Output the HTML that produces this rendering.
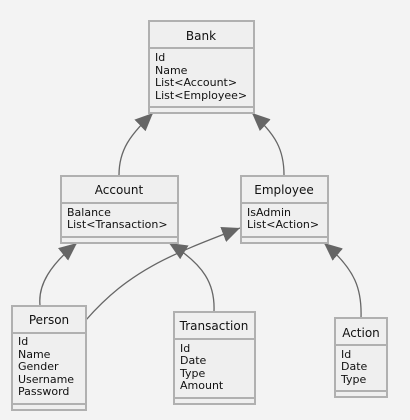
<!DOCTYPE html>
<html><head><meta charset="utf-8"><style>
html,body{margin:0;padding:0;background:#f3f3f3;}
svg{display:block;}
text{font-family:"DejaVu Sans","Liberation Sans",sans-serif;font-size:11px;fill:#111;}
.t{font-weight:normal;font-size:12px;text-anchor:middle;}
.b{fill:#efefef;stroke:#b0b0b0;stroke-width:2;}
.l{stroke:#b0b0b0;stroke-width:2;}
.c{fill:none;stroke:#666;stroke-width:1.3;}
</style></head><body>
<svg width="410" height="420" viewBox="0 0 410 420">
<defs><marker id="a" markerWidth="20" markerHeight="16" refX="18" refY="8" orient="auto" markerUnits="userSpaceOnUse"><path d="M0,0 L18,8 L0,16 Z" fill="#666"/></marker></defs>
<rect width="410" height="420" fill="#f3f3f3"/>
<!-- connectors -->
<path class="c" d="M119,175 C119,150 130,135 153,113" marker-end="url(#a)"/>
<path class="c" d="M284,175 C284,150 276,135 252,113" marker-end="url(#a)"/>
<path class="c" d="M40,305 C38,285 50,265 77,243" marker-end="url(#a)"/>
<path class="c" d="M86,320 C130,270 170,255 240,228" marker-end="url(#a)"/>
<path class="c" d="M214,311 C215,285 205,265 169,243" marker-end="url(#a)"/>
<path class="c" d="M361,318 C362,290 356,270 324,243" marker-end="url(#a)"/>
<!-- Bank -->
<rect class="b" x="149" y="21" width="105" height="92"/>
<line class="l" x1="149" y1="48" x2="254" y2="48"/><line class="l" x1="149" y1="107" x2="254" y2="107"/>
<text class="t" x="201" y="40">Bank</text>
<text x="155" y="61">Id</text><text x="155" y="74">Name</text><text x="155" y="86">List&lt;Account&gt;</text><text x="155" y="99">List&lt;Employee&gt;</text>
<!-- Account -->
<rect class="b" x="61" y="176" width="117" height="67"/>
<line class="l" x1="61" y1="203" x2="178" y2="203"/><line class="l" x1="61" y1="237" x2="178" y2="237"/>
<text class="t" x="119" y="194">Account</text>
<text x="67" y="216">Balance</text><text x="67" y="228">List&lt;Transaction&gt;</text>
<!-- Employee -->
<rect class="b" x="241" y="176" width="87" height="67"/>
<line class="l" x1="241" y1="203" x2="328" y2="203"/><line class="l" x1="241" y1="237" x2="328" y2="237"/>
<text class="t" x="284" y="194">Employee</text>
<text x="247" y="216">IsAdmin</text><text x="247" y="228">List&lt;Action&gt;</text>
<!-- Person -->
<rect class="b" x="12" y="306" width="74" height="104"/>
<line class="l" x1="12" y1="333" x2="86" y2="333"/><line class="l" x1="12" y1="404" x2="86" y2="404"/>
<text class="t" x="49" y="324">Person</text>
<text x="18" y="345">Id</text><text x="18" y="358">Name</text><text x="18" y="370">Gender</text><text x="18" y="383">Username</text><text x="18" y="395">Password</text>
<!-- Transaction -->
<rect class="b" x="174" y="312" width="81" height="92"/>
<line class="l" x1="174" y1="339" x2="255" y2="339"/><line class="l" x1="174" y1="398" x2="255" y2="398"/>
<text class="t" x="214" y="330">Transaction</text>
<text x="180" y="352">Id</text><text x="180" y="364">Date</text><text x="180" y="377">Type</text><text x="180" y="389">Amount</text>
<!-- Action -->
<rect class="b" x="335" y="318" width="52" height="79"/>
<line class="l" x1="335" y1="345" x2="387" y2="345"/><line class="l" x1="335" y1="391" x2="387" y2="391"/>
<text class="t" x="361" y="337">Action</text>
<text x="341" y="358">Id</text><text x="341" y="370">Date</text><text x="341" y="383">Type</text>
</svg>
</body></html>
